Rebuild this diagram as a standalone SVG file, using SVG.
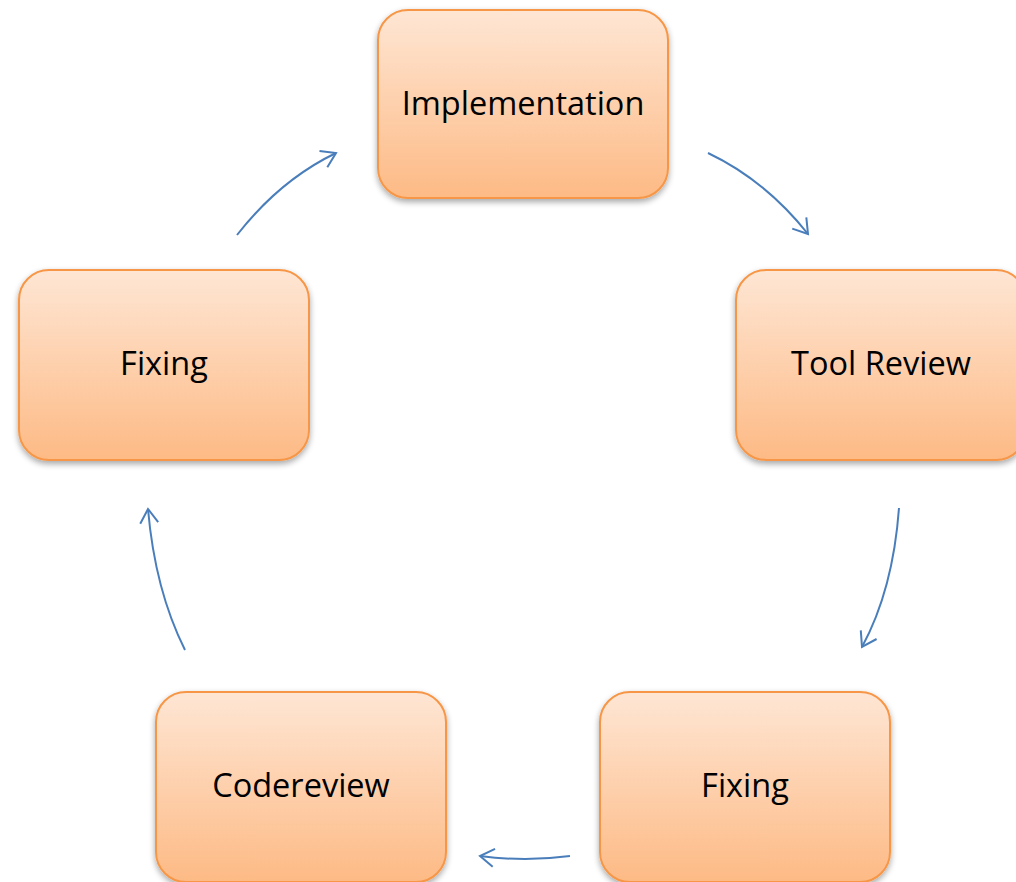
<svg xmlns="http://www.w3.org/2000/svg" width="1016" height="882" viewBox="0 0 1016 882">
<style>
.box{fill:url(#g);stroke:#f79646;stroke-width:2;filter:url(#sh)}
.lbl{font-family:"Open Sans","Liberation Sans",sans-serif;font-size:32.5px;fill:#000;text-anchor:middle;dominant-baseline:central}
.arr{fill:none;stroke:#4a7ebb;stroke-width:2;marker-end:url(#ah)}
</style>
<defs>
<linearGradient id="g" x1="0" y1="0" x2="0" y2="1">
<stop offset="0" stop-color="#fee6d4"/>
<stop offset="1" stop-color="#fdba85"/>
</linearGradient>
<filter id="sh" x="-10%" y="-10%" width="120%" height="125%">
<feGaussianBlur in="SourceAlpha" stdDeviation="3"/>
<feOffset dy="3"/>
<feComponentTransfer><feFuncA type="linear" slope="0.35"/></feComponentTransfer>
<feMerge><feMergeNode/><feMergeNode in="SourceGraphic"/></feMerge>
</filter>
<marker id="ah" markerUnits="userSpaceOnUse" markerWidth="24" markerHeight="24" refX="17" refY="11" orient="auto">
<path d="M3,2 L17,11 L3,20" fill="none" stroke="#4a7ebb" stroke-width="2"/>
</marker>
</defs>
<g id="connectors">
<path class="arr" d="M237,235 Q280,180 336,153"/>
<path class="arr" d="M708,153 Q765,180 808,234"/>
<path class="arr" d="M899,508 Q893,590 862,647"/>
<path class="arr" d="M570,856 Q525,862 480,856"/>
<path class="arr" d="M185,650 Q155,590 148,509"/>
</g>
<g id="n-implementation"><rect class="box" x="378" y="10" width="290" height="188" rx="30"/><text class="lbl" x="523" y="102">Implementation</text></g>
<g id="n-toolreview"><rect class="box" x="736" y="270" width="290" height="190" rx="30"/><text class="lbl" x="881" y="362">Tool Review</text></g>
<g id="n-fixing-right"><rect class="box" x="600" y="692" width="290" height="190" rx="30"/><text class="lbl" x="745" y="784">Fixing</text></g>
<g id="n-codereview"><rect class="box" x="156" y="692" width="290" height="190" rx="30"/><text class="lbl" x="301" y="784">Codereview</text></g>
<g id="n-fixing-left"><rect class="box" x="19" y="270" width="290" height="190" rx="30"/><text class="lbl" x="164" y="362">Fixing</text></g>
</svg>
